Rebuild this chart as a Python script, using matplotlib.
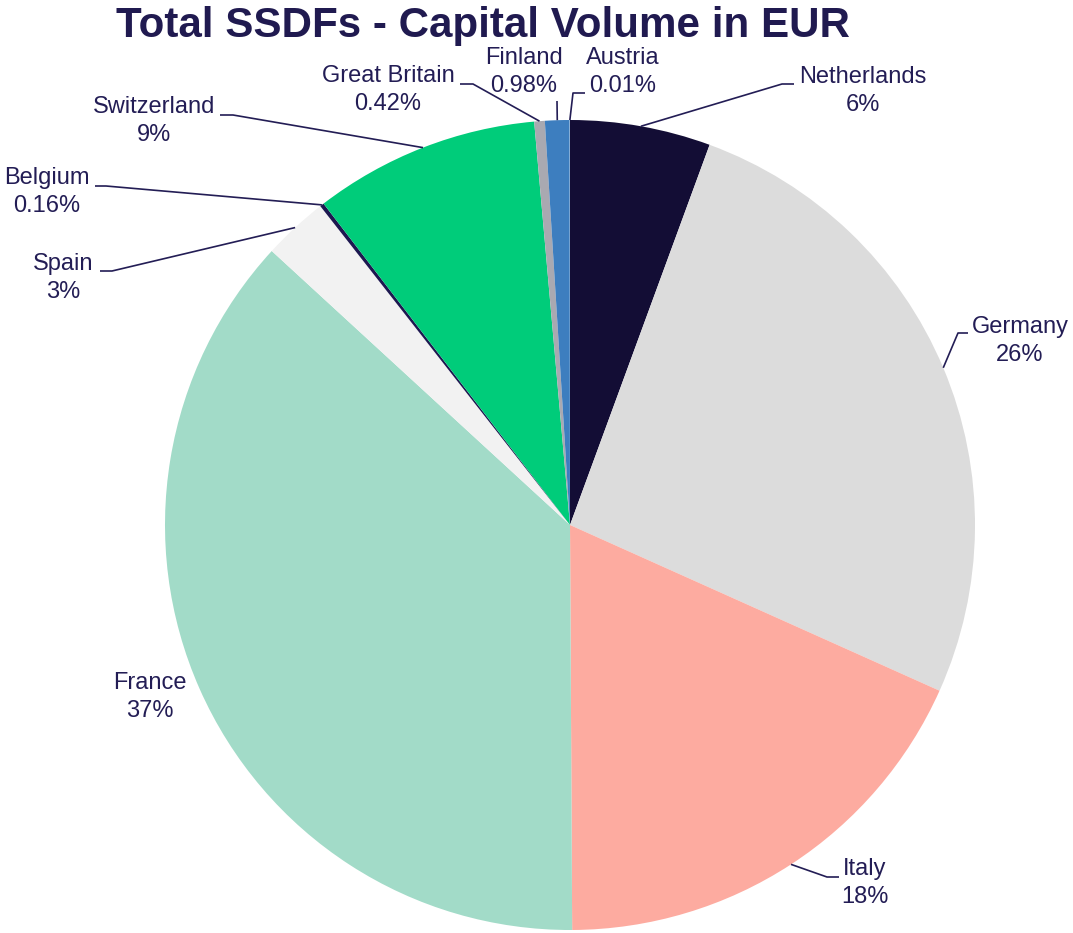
import matplotlib
matplotlib.use("Agg")
import matplotlib.pyplot as plt
import numpy as np

plt.rcParams['font.family'] = ['Liberation Sans', 'DejaVu Sans']

# ---- data ----
countries = ["Netherlands", "Germany", "Italy", "France", "Spain", "Belgium",
             "Switzerland", "Great Britain", "Finland", "Austria"]
shares = [5.6, 26.1, 18.2, 36.9, 2.6, 0.16, 9.0, 0.42, 0.98, 0.01]
pct_labels = ["6%", "26%", "18%", "37%", "3%", "0.16%", "9%", "0.42%", "0.98%", "0.01%"]
colors = ["#130d35", "#dcdcdc", "#fdaba0", "#a2dbc8", "#f2f2f2", "#1d1850",
          "#00cc7a", "#a9a9b1", "#3d7ebf", "#d6e6f5"]

title = "Total SSDFs - Capital Volume in EUR"

# ---- layout (pixel coordinates, top-left origin) ----
W, H = 1073, 933
CX, CY, R = 570, 525, 405
# label block centre (x, y), leader bend point, leader end point
label_layout = {
    "Netherlands":   ((863, 91),  (782, 84),  (794, 84)),
    "Germany":       ((1020, 341), (958, 333), (968, 333)),
    "Italy":         ((865, 883), (827, 877), (839, 877)),
    "France":        ((150, 697), None, None),
    "Spain":         ((63, 278),  (112, 271), (100, 271)),
    "Belgium":       ((47, 192),  (106, 186), (95, 186)),
    "Switzerland":   ((154, 121), (233, 115), (220, 115)),
    "Great Britain": ((388, 90),  (473, 84),  (460, 84)),
    "Finland":       ((524, 72),  (557, 101), None),
    "Austria":       ((623, 72),  (573, 93),  (585, 93)),
}
text_color = "#231d55"
title_color = "#201a50"

fig = plt.figure(figsize=(W / 100, H / 100), dpi=100)
ax = fig.add_axes([0, 0, 1, 1])


def fy(py):
    return H - py


wedges, _ = ax.pie(shares, colors=colors, startangle=90, counterclock=False,
                   radius=R, center=(CX, fy(CY)), frame=True,
                   wedgeprops=dict(linewidth=0, antialiased=True))
ax.set_xlim(0, W)
ax.set_ylim(0, H)
ax.set_aspect('equal')
ax.axis('off')

for w, name, pct in zip(wedges, countries, pct_labels):
    (tx, ty), bend, end = label_layout[name]
    ax.text(tx, fy(ty), f"{name}\n{pct}", ha='center', va='center',
            fontsize=17, color=text_color, linespacing=1.37)
    if bend is not None:
        mid = np.deg2rad((w.theta1 + w.theta2) / 2)
        sx = CX + R * np.cos(mid)
        sy = fy(CY) + R * np.sin(mid)
        xs = [sx, bend[0]]
        ys = [sy, fy(bend[1])]
        if end is not None:
            xs.append(end[0])
            ys.append(fy(end[1]))
        ax.plot(xs, ys, color=text_color, linewidth=1.2, solid_capstyle='butt')

fig.text(483 / W, 1 - 26 / H, title, ha='center', va='center', fontsize=30.3,
         fontweight='bold', color=title_color)

fig.savefig("out.png", dpi=100)
